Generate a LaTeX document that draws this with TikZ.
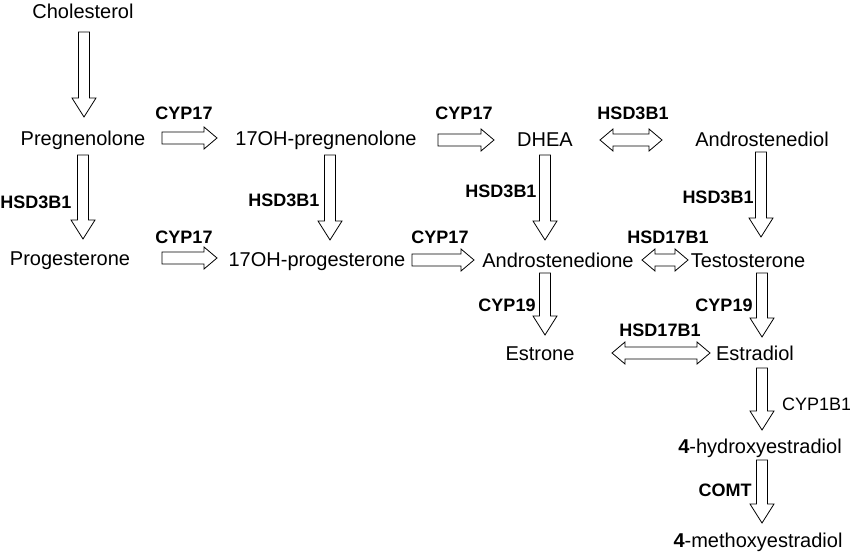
\documentclass[tikz,border=0pt]{standalone}
\usepackage{fontspec}
\setmainfont{Liberation Sans}
\usetikzlibrary{calc}
\tikzset{
 chem/.style={inner sep=0pt, text height=18pt, text depth=4pt, font=\fontsize{20}{24}\selectfont},
 enz/.style={inner sep=0pt, text height=16pt, text depth=3.2pt, font=\fontsize{18}{22}\selectfont\bfseries},
 enzr/.style={inner sep=0pt, text height=16pt, text depth=3.2pt, font=\fontsize{18}{22}\selectfont},
 blk/.style={draw=black, line width=0.8pt, fill=white, line join=miter},
}
\newcommand\varr[2]{\draw[blk] let \p1=(#1), \p2=(#2) in (\x1-5.5pt,\y1) -- (\x1-5.5pt,\y2+19pt) -- (\x1-12pt,\y2+19pt) -- (\x1,\y2) -- (\x1+12pt,\y2+19pt) -- (\x1+5.5pt,\y2+19pt) -- (\x1+5.5pt,\y1) -- cycle;}
\newcommand\harr[2]{\draw[blk] let \p1=(#1), \p2=(#2) in (\x1,\y1-6pt) -- (\x2-13pt,\y1-6pt) -- (\x2-13pt,\y1-11pt) -- (\x2,\y1) -- (\x2-13pt,\y1+11pt) -- (\x2-13pt,\y1+6pt) -- (\x1,\y1+6pt) -- cycle;}
\newcommand\darr[2]{\draw[blk] let \p1=(#1), \p2=(#2) in (\x1,\y1) -- (\x1+13pt,\y1+11pt) -- (\x1+13pt,\y1+6pt) -- (\x2-13pt,\y1+6pt) -- (\x2-13pt,\y1+11pt) -- (\x2,\y1) -- (\x2-13pt,\y1-11pt) -- (\x2-13pt,\y1-6pt) -- (\x1+13pt,\y1-6pt) -- (\x1+13pt,\y1-11pt) -- cycle;}
\begin{document}
\begin{tikzpicture}[x=1pt,y=-1pt]
\useasboundingbox[fill=white] (0,0) rectangle (850,553);
% compounds
\node[chem] (chol) at (83,12) {Cholesterol};
\node[chem] (preg) at (83,139) {Pregnenolone};
\node[chem] (ohpreg) at (326,139) {17OH-pregnenolone};
\node[chem] (dhea) at (545,140) {DHEA};
\node[chem] (adiol) at (762,140) {Androstenediol};
\node[chem] (prog) at (70,258) {Progesterone};
\node[chem] (ohprog) at (317,259) {17OH-progesterone};
\node[chem] (adione) at (558,260) {Androstenedione};
\node[chem] (testo) at (748,260) {Testosterone};
\node[chem] (estrone) at (540,353) {Estrone};
\node[chem] (estradiol) at (755,353) {Estradiol};
\node[chem] (hydroxy) at (760,446) {\textbf{4}-hydroxyestradiol};
\node[chem] (methoxy) at (758,540) {\textbf{4}-methoxyestradiol};
% enzymes
\node[enz] (e1) at (184,113) {CYP17};
\node[enz] (e2) at (184,237) {CYP17};
\node[enz] (e3) at (464,113) {CYP17};
\node[enz] (e4) at (440,237) {CYP17};
\node[enz] (e5) at (36,202) {HSD3B1};
\node[enz] (e6) at (284,200) {HSD3B1};
\node[enz] (e7) at (501,191) {HSD3B1};
\node[enz] (e8) at (633,113) {HSD3B1};
\node[enz] (e9) at (718,197) {HSD3B1};
\node[enz] (e10) at (668,237) {HSD17B1};
\node[enz] (e11) at (507,305) {CYP19};
\node[enz] (e12) at (724,305) {CYP19};
\node[enz] (e13) at (660,330) {HSD17B1};
\node[enzr, anchor=west] (e14) at (782,404) {CYP1B1};
\node[enz] (e15) at (725,490) {COMT};
% arrow end points
\coordinate (v1a) at (84,32);   \coordinate (v1b) at (84,117);
\coordinate (v2a) at (83,155);  \coordinate (v2b) at (83,239);
\coordinate (v3a) at (330,155); \coordinate (v3b) at (330,240);
\coordinate (v4a) at (545,155); \coordinate (v4b) at (545,240);
\coordinate (v5a) at (761,152); \coordinate (v5b) at (761,237);
\coordinate (v6a) at (545,273); \coordinate (v6b) at (545,335);
\coordinate (v7a) at (762,273); \coordinate (v7b) at (762,337);
\coordinate (v8a) at (762,368); \coordinate (v8b) at (762,430);
\coordinate (v9a) at (762,460); \coordinate (v9b) at (762,523);
\coordinate (h1a) at (162,138); \coordinate (h1b) at (217,138);
\coordinate (h2a) at (162,258); \coordinate (h2b) at (217,258);
\coordinate (h3a) at (438,140); \coordinate (h3b) at (494,140);
\coordinate (h4a) at (412,260); \coordinate (h4b) at (474,260);
\coordinate (d1a) at (600,140); \coordinate (d1b) at (662,140);
\coordinate (d2a) at (642,260); \coordinate (d2b) at (688,260);
\coordinate (d3a) at (612,353); \coordinate (d3b) at (710,353);
% arrows
\varr{v1a}{v1b}
\varr{v2a}{v2b}
\varr{v3a}{v3b}
\varr{v4a}{v4b}
\varr{v5a}{v5b}
\varr{v6a}{v6b}
\varr{v7a}{v7b}
\varr{v8a}{v8b}
\varr{v9a}{v9b}
\harr{h1a}{h1b}
\harr{h2a}{h2b}
\harr{h3a}{h3b}
\harr{h4a}{h4b}
\darr{d1a}{d1b}
\darr{d2a}{d2b}
\darr{d3a}{d3b}
\end{tikzpicture}
\end{document}
